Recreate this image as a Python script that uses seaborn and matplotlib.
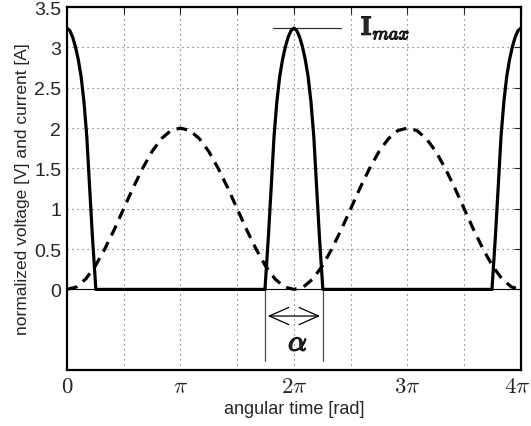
import numpy as np
import pandas as pd
import matplotlib
matplotlib.use("Agg")
import matplotlib.pyplot as plt
import matplotlib.patheffects as pe
import matplotlib.transforms as mtransforms
import seaborn as sns

# angular time in twelfths of pi, voltage 1 - cos
t_voltage_12 = [0, 1, 2, 3, 4, 5, 6, 7, 8, 9, 10, 11, 12, 13, 14, 15, 16,
                17, 18, 19, 20, 21, 22, 23, 24, 25, 26, 27, 28, 29, 30, 31,
                32, 33, 34, 35, 36, 37, 38, 39, 40, 41, 42, 43, 44, 45, 46,
                47, 48]
v_voltage = [0.00, 0.03, 0.13, 0.29, 0.50, 0.74, 1.00, 1.26, 1.50, 1.71,
             1.87, 1.97, 2.00, 1.97, 1.87, 1.71, 1.50, 1.26, 1.00, 0.74,
             0.50, 0.29, 0.13, 0.03, 0.00, 0.03, 0.13, 0.29, 0.50, 0.74,
             1.00, 1.26, 1.50, 1.71, 1.87, 1.97, 2.00, 1.97, 1.87, 1.71,
             1.50, 1.26, 1.00, 0.74, 0.50, 0.29, 0.13, 0.03, 0.00]

# current pulses (angular time in multiples of pi)
t_current = [0.000, 0.025, 0.050, 0.075, 0.100, 0.125, 0.150, 0.175, 0.200, 0.225, 0.255,
             1.745, 1.775, 1.800, 1.825, 1.850, 1.875, 1.900, 1.925, 1.950, 1.975, 2.000,
             2.025, 2.050, 2.075, 2.100, 2.125, 2.150, 2.175, 2.200, 2.225, 2.255,
             3.745, 3.775, 3.800, 3.825, 3.850, 3.875, 3.900, 3.925, 3.950, 3.975, 4.000]
i_current = [3.24, 3.21, 3.13, 3.01, 2.85, 2.64, 2.33, 1.90, 1.27, 0.65, 0.00,
             0.00, 0.65, 1.27, 1.90, 2.33, 2.64, 2.85, 3.01, 3.13, 3.21, 3.24,
             3.21, 3.13, 3.01, 2.85, 2.64, 2.33, 1.90, 1.27, 0.65, 0.00,
             0.00, 0.65, 1.27, 1.90, 2.33, 2.64, 2.85, 3.01, 3.13, 3.21, 3.24]

i_max = 3.24
alpha_edges = [1.745, 2.255]   # conduction interval around 2*pi (multiples of pi)

x_ticks_half_pi = [0, 1, 2, 3, 4, 5, 6, 7, 8]
x_tick_labels = ["$0$", "", r"$\pi$", "", r"$2\pi$", "", r"$3\pi$", "", r"$4\pi$"]
y_ticks = [0, 0.5, 1, 1.5, 2, 2.5, 3, 3.5]
y_tick_labels = ["0", "0.5", "1", "1.5", "2", "2.5", "3", "3.5"]

sns.set_style("white")
plt.rcParams["font.family"] = ["Liberation Sans", "DejaVu Sans"]
plt.rcParams["mathtext.fontset"] = "cm"

df_v = pd.DataFrame({"t": np.array(t_voltage_12) * np.pi / 12, "v": v_voltage})
df_i = pd.DataFrame({"t": np.array(t_current) * np.pi, "i": i_current})

fig = plt.figure(figsize=(5.31, 4.27), dpi=100)
ax = fig.add_axes([0.126, 0.131, 0.855, 0.850])

ax.axhline(0, color="k", lw=0.8, zorder=1)
sns.lineplot(data=df_v, x="t", y="v", ax=ax, color="k", lw=2.3,
             ls=(0, (3.4, 2.3)), estimator=None, sort=False, zorder=3)
sns.lineplot(data=df_i, x="t", y="i", ax=ax, color="k", lw=2.3,
             estimator=None, sort=False, zorder=4)

ax.set_xlim(0, 4 * np.pi)
ax.set_ylim(-1, 3.5)
ax.set_xticks(np.array(x_ticks_half_pi) * np.pi / 2)
ax.set_xticklabels(x_tick_labels, fontsize=16.5)
ax.set_yticks(y_ticks)
ax.set_yticklabels(y_tick_labels, fontsize=14)
ax.tick_params(direction="in", top=True, right=True, length=5, width=0.8, pad=4)
ax.tick_params(axis="x", pad=3)
# keep the last pi label inside the canvas
last = ax.get_xticklabels()[-1]
last.set_transform(last.get_transform() + mtransforms.ScaledTranslation(-4 / 100, 0, fig.dpi_scale_trans))
ax.grid(True, color="0.35", lw=0.8, ls=(0, (1, 3.5)))
for s in ax.spines.values():
    s.set_linewidth(1.6)
    s.set_color("k")

ax.set_xlabel("angular time [rad]", fontsize=13, labelpad=2)
ax.set_ylabel("normalized voltage [V] and current [A]", fontsize=12.5, labelpad=3)

# I_max marker
ax.plot([1.815 * np.pi, 2.414 * np.pi], [i_max, i_max], color="0.2", lw=0.9)
ax.text(2.59 * np.pi, i_max, r"$\mathbf{I}_{max}$", fontsize=19, va="center", ha="left",
        path_effects=[pe.withStroke(linewidth=0.8, foreground="k")])

# alpha marker
for xe in alpha_edges:
    ax.plot([xe * np.pi, xe * np.pi], [0, -0.89], color="0.3", lw=0.9)
ax.annotate("", xy=(alpha_edges[0] * np.pi, -0.33), xytext=(alpha_edges[1] * np.pi, -0.33),
            arrowprops=dict(arrowstyle="<->,head_length=0.5,head_width=0.22",
                            color="k", lw=0.9, mutation_scale=28))
ax.text(2.035 * np.pi, -0.66, r"$\alpha$", fontsize=21, ha="center", va="center",
        path_effects=[pe.withStroke(linewidth=1.0, foreground="k")])

fig.savefig("out.png", dpi=100)
